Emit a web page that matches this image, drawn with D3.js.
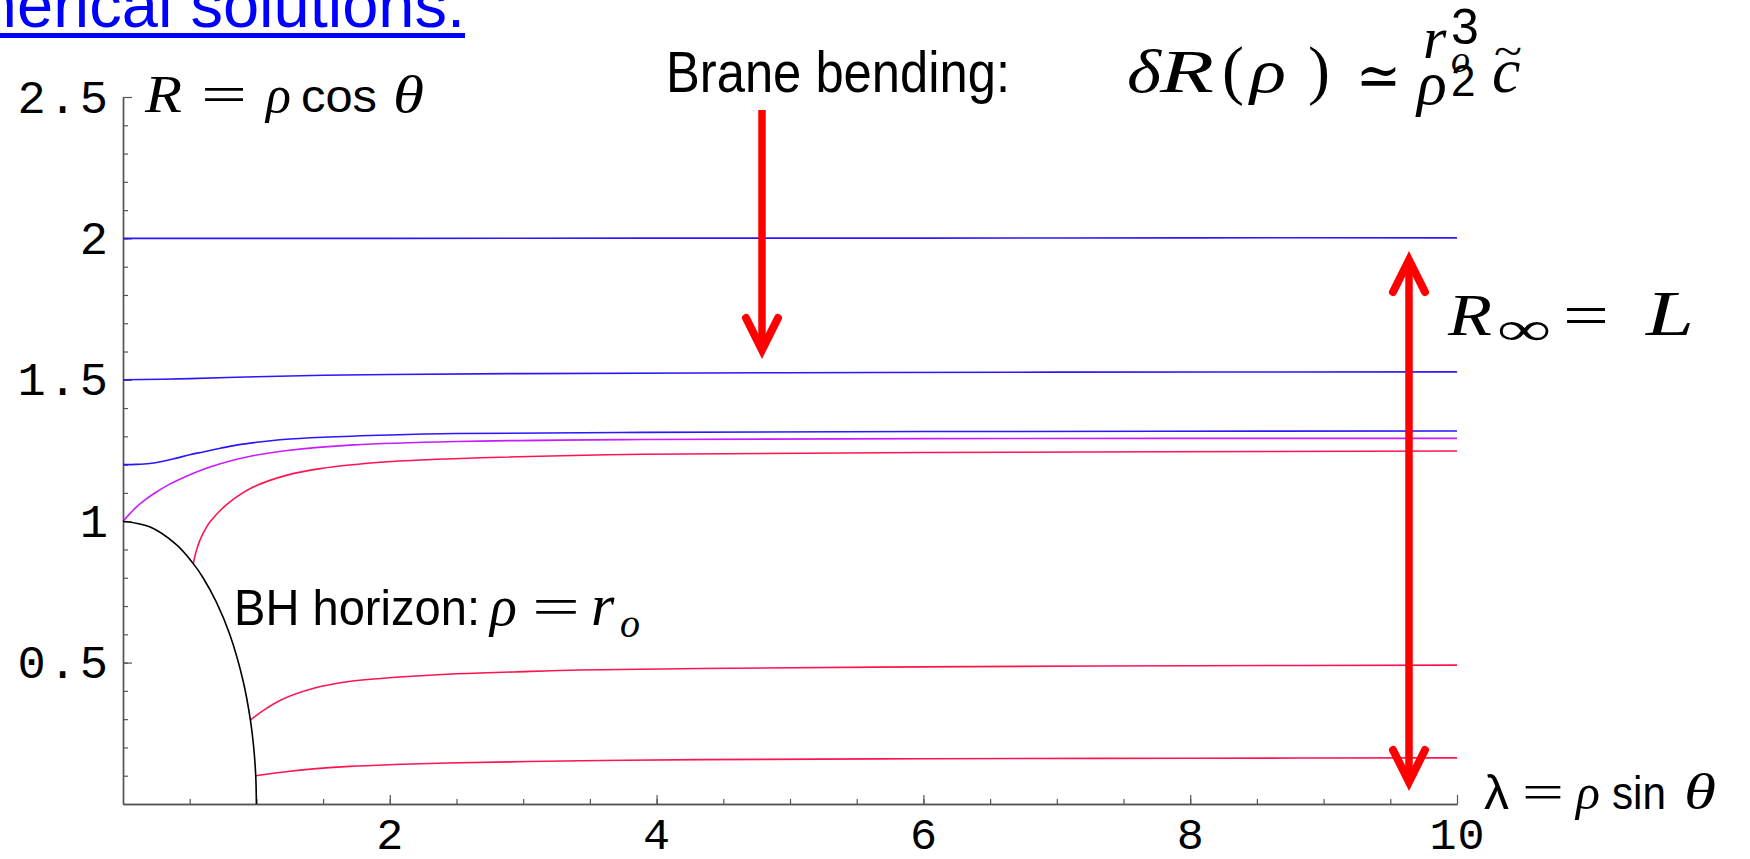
<!DOCTYPE html>
<html>
<head>
<meta charset="utf-8">
<script src="https://cdn.jsdelivr.net/npm/d3@7"></script>
<style>
  body { margin: 0; background: #fff; }
  svg { display: block; }
</style>
</head>
<body>
<svg id="chart"></svg>
<script>
// brane embeddings R(lambda)
var blue20X = [0, 2, 4, 6, 8, 10];
var blue20Y = [2.0, 2.0, 2.001, 2.001, 2.002, 2.002];

var blue15X = [0, 0.5, 1, 1.5, 2, 3, 5, 7, 10];
var blue15Y = [1.5, 1.504, 1.511, 1.516, 1.519, 1.522, 1.525, 1.527, 1.528];

var blue12X = [0, 0.1, 0.2, 0.3, 0.4, 0.5, 0.6, 0.73, 0.85, 1.0, 1.2, 1.5, 2.0, 2.5, 3.9, 6, 10];
var blue12Y = [1.2, 1.2008, 1.204, 1.212, 1.223, 1.235, 1.245, 1.258, 1.269, 1.279, 1.289, 1.297, 1.305, 1.31, 1.314, 1.317, 1.319];

var magentaX = [0, 0.05, 0.1, 0.17, 0.23, 0.35, 0.48, 0.6, 0.73, 0.98, 1.23, 1.73, 2.5, 3.9, 6, 10];
var magentaY = [1.0, 1.026, 1.05, 1.077, 1.097, 1.131, 1.16, 1.183, 1.203, 1.232, 1.25, 1.27, 1.282, 1.289, 1.292, 1.293];

var redUpX = [0.527, 0.537, 0.55, 0.577, 0.627, 0.68, 0.727, 0.79, 0.852, 0.977, 1.23, 1.48, 1.98, 2.48, 3.9, 6, 10];
var redUpY = [0.85, 0.872, 0.896, 0.933, 0.98, 1.013, 1.037, 1.064, 1.086, 1.121, 1.163, 1.186, 1.21, 1.221, 1.237, 1.243, 1.248];

var redMidX = [0.955, 1.05, 1.18, 1.43, 1.68, 1.93, 2.43, 2.93, 3.43, 4.33, 6, 8, 10];
var redMidY = [0.297, 0.33, 0.367, 0.409, 0.432, 0.444, 0.459, 0.467, 0.474, 0.479, 0.485, 0.489, 0.491];

var redLowX = [0.995, 1.1, 1.25, 1.45, 1.7, 2.0, 2.43, 3.43, 4.33, 6, 8, 10];
var redLowY = [0.1, 0.107, 0.116, 0.125, 0.133, 0.139, 0.145, 0.153, 0.157, 0.16, 0.162, 0.163];

// BH horizon rho = r_o
var horizonX = [0, 0.2, 0.4, 0.527, 0.6, 0.7, 0.8, 0.9, 0.955, 0.98, 0.995, 1.0];
var horizonY = [1, 0.98, 0.917, 0.85, 0.8, 0.714, 0.6, 0.436, 0.297, 0.199, 0.1, 0];

var xTicks = [2, 4, 6, 8, 10];
var yTicks = [0.5, 1, 1.5, 2, 2.5];
var yTickLabels = ["0.5", "1", "1.5", "2", "2.5"];

var width = 1750, height = 859;

var svg = d3.select("#chart")
    .attr("width", width)
    .attr("height", height);

var x = d3.scaleLinear().domain([0, 10]).range([123, 1457]);
var y = d3.scaleLinear().domain([0, 2.5]).range([804, 97]);

var zip = function (xs, ys) { return xs.map(function (v, i) { return [v, ys[i]]; }); };

var blue = "#2b16ff", magenta = "#c81cff", crimson = "#ff1450";
var series = [
    { pts: zip(blue20X, blue20Y), color: blue },
    { pts: zip(blue15X, blue15Y), color: blue },
    { pts: zip(blue12X, blue12Y), color: blue },
    { pts: zip(magentaX, magentaY), color: magenta },
    { pts: zip(redUpX, redUpY), color: crimson },
    { pts: zip(redMidX, redMidY), color: crimson },
    { pts: zip(redLowX, redLowY), color: crimson },
    { pts: zip(horizonX, horizonY), color: "#000" }
];

// axes, mathematica style: ticks pointing inward
var axisColor = "#555";
var tickFont = "'Liberation Mono', monospace";

svg.append("g").attr("transform", "translate(" + x(0) + ",0)")
    .call(d3.axisLeft(y).tickValues(d3.range(0.1, 2.5, 0.1)).tickSize(-5).tickSizeOuter(0).tickFormat(""));
var yAxis = svg.append("g").attr("transform", "translate(" + x(0) + ",0)")
    .call(d3.axisLeft(y).tickValues(yTicks).tickSize(-9).tickSizeOuter(0).tickPadding(12)
        .tickFormat(function (d, i) { return yTickLabels[i]; }));

svg.append("g").attr("transform", "translate(0," + y(0) + ")")
    .call(d3.axisBottom(x).tickValues(d3.range(0.5, 10, 0.5)).tickSize(-5).tickSizeOuter(0).tickFormat(""));
var xAxis = svg.append("g").attr("transform", "translate(0," + y(0) + ")")
    .call(d3.axisBottom(x).tickValues(xTicks).tickSize(-9).tickSizeOuter(0).tickPadding(13));

svg.selectAll(".domain").attr("stroke", axisColor).attr("stroke-width", 1.4);
svg.selectAll(".tick line").attr("stroke", axisColor).attr("stroke-width", 1.2);
svg.selectAll(".tick text")
    .attr("font-family", tickFont)
    .attr("fill", "#000");
yAxis.selectAll(".tick text").attr("font-size", 47).attr("letter-spacing", 3);
xAxis.selectAll(".tick text").attr("font-size", 45).attr("letter-spacing", 1);

var line = d3.line()
    .x(function (d) { return x(d[0]); })
    .y(function (d) { return y(d[1]); })
    .curve(d3.curveCatmullRom.alpha(0.5));

svg.append("g").selectAll("path")
    .data(series)
    .join("path")
    .attr("d", function (s) { return line(s.pts); })
    .attr("fill", "none")
    .attr("stroke", function (s) { return s.color; })
    .attr("stroke-width", 1.6);

// text helpers
var serif = "'Liberation Serif', 'DejaVu Serif', serif";
var sans = "'Liberation Sans', Arial, sans-serif";
function txt(str, px, py, opts) {
    var t = svg.append("text")
        .attr("x", px).attr("y", py)
        .attr("font-family", opts.font || serif)
        .attr("font-size", opts.size || 48)
        .attr("font-style", opts.italic ? "italic" : "normal")
        .attr("fill", opts.fill || "#000")
        .text(str);
    if (opts.len) t.attr("textLength", opts.len).attr("lengthAdjust", "spacingAndGlyphs");
    if (opts.anchor) t.attr("text-anchor", opts.anchor);
    return t;
}

// title cut off at the top of the slide
txt("Numerical solutions.", 465, 27, { font: sans, size: 65, fill: "#0000ff", anchor: "end" });
svg.append("rect").attr("x", 0).attr("y", 33).attr("width", 465).attr("height", 5).attr("fill", "#0000ff");

// R = rho cos theta
txt("R", 145, 112, { italic: true, size: 52, len: 37 });
txt("=", 201, 112, { size: 52, len: 46 });
txt("\u03C1", 266, 112, { italic: true, size: 52 });
txt("cos", 301, 112, { font: sans, size: 46, len: 76 });
txt("\u03B8", 393, 112, { italic: true, size: 52, len: 31 });

// brane bending
txt("Brane bending:", 666, 92, { font: sans, size: 57, len: 344 });
txt("\u03B4", 1127, 92, { italic: true, size: 62, len: 34 });
txt("R", 1160, 92, { italic: true, size: 62, len: 54 });
txt("(", 1222, 92, { size: 66 });
txt("\u03C1", 1250, 92, { italic: true, size: 62, len: 36 });
txt(")", 1308, 92, { size: 66 });
txt("\u2243", 1356, 96, { font: "'DejaVu Serif', serif", size: 60, len: 45 });
txt("r", 1423, 58, { italic: true, size: 60 });
txt("3", 1451, 44, { font: sans, size: 50 });
txt("o", 1451, 72, { italic: true, size: 38 });
txt("\u03C1", 1417, 104, { italic: true, size: 62 });
txt("2", 1451, 96, { font: sans, size: 44 });
txt("c", 1492, 92, { italic: true, size: 64 });
txt("~", 1494, 66, { size: 44, len: 28 });

// BH horizon
txt("BH horizon:", 234, 625, { font: sans, size: 50, len: 246 });
txt("\u03C1", 490, 625, { italic: true, size: 56 });
txt("=", 532, 625, { size: 54, len: 48 });
txt("r", 591, 625, { italic: true, size: 60 });
txt("o", 620, 637, { italic: true, size: 40 });

// R_inf = L
txt("R", 1448, 335, { italic: true, size: 60, len: 44 });
txt("\u221E", 1497, 345, { size: 48, len: 54 });
txt("=", 1563, 335, { size: 60, len: 46 });
txt("L", 1646, 335, { italic: true, size: 64, len: 48 });

// lambda = rho sin theta
txt("\u03BB", 1484, 809, { font: sans, size: 48, len: 25 });
txt("=", 1522, 809, { size: 50, len: 42 });
txt("\u03C1", 1576, 809, { italic: true, size: 50 });
txt("sin", 1612, 809, { font: sans, size: 46, len: 54 });
txt("\u03B8", 1684, 809, { italic: true, size: 50, len: 32 });

// red arrows
var red = "#ff0000";
function arrowHead(tipX, tipY, dir) {
    svg.append("path")
        .attr("d", "M" + (tipX - 16) + "," + (tipY - dir * 32) + "L" + tipX + "," + tipY + "L" + (tipX + 16) + "," + (tipY - dir * 32))
        .attr("fill", "none").attr("stroke", red).attr("stroke-width", 8)
        .attr("stroke-linecap", "round").attr("stroke-linejoin", "miter").attr("stroke-miterlimit", 10);
}
svg.append("line").attr("x1", 762).attr("x2", 762).attr("y1", 110).attr("y2", 348)
    .attr("stroke", red).attr("stroke-width", 7.5);
arrowHead(762, 350, 1);

svg.append("line").attr("x1", 1409).attr("x2", 1409).attr("y1", 262).attr("y2", 780)
    .attr("stroke", red).attr("stroke-width", 7.5);
arrowHead(1409, 260, -1);
arrowHead(1409, 782, 1);
</script>
</body>
</html>
